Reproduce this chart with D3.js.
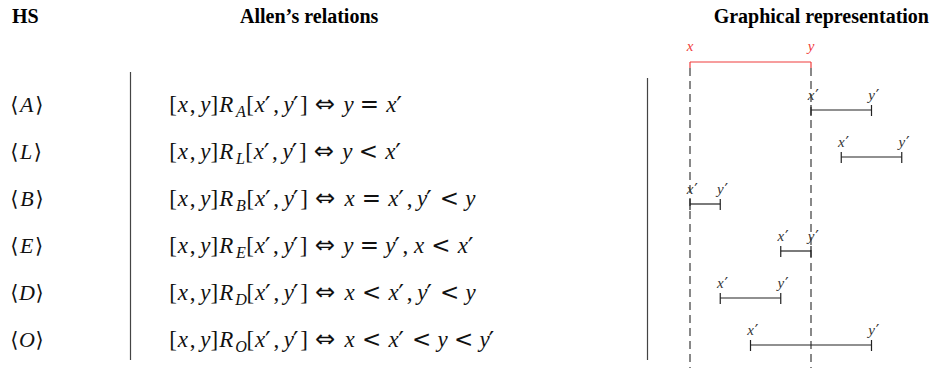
<!DOCTYPE html>
<html>
<head>
<meta charset="utf-8">
<script src="https://cdn.jsdelivr.net/npm/d3@7"></script>
<style>
  body { margin: 0; background: #fff; }
</style>
</head>
<body>
<svg width="933" height="368"></svg>
<script>
(function () {

// table data
var relations = ["A", "L", "B", "E", "D", "O"];
var formulas = [
  "[x,y]R_A[x′,y′]⇔y=x′",
  "[x,y]R_L[x′,y′]⇔y<x′",
  "[x,y]R_B[x′,y′]⇔x=x′,y′<y",
  "[x,y]R_E[x′,y′]⇔y=y′,x<x′",
  "[x,y]R_D[x′,y′]⇔x<x′,y′<y",
  "[x,y]R_O[x′,y′]⇔x<x′<y<y′"
];
// interval [x', y'] endpoints, reference interval [x, y] = [0, 4]
var refInterval = [0, 4];
var startVals = [4, 5, 0, 3, 1, 2];
var endVals = [6, 7, 1, 4, 3, 6];
var headers = ["HS", "Allen’s relations", "Graphical representation"];

var svg = d3.select('svg');

var serif = "'Liberation Serif', 'Times New Roman', serif";
var symFont = "'DejaVu Sans', sans-serif";
var rowY = d3.scalePoint().domain(relations).range([105, 340]);
var xs = d3.scaleLinear().domain([0, 4]).range([690, 811]);

// headers
var hdr = function (x, txt) {
  svg.append('text').attr('x', x).attr('y', 23).text(txt)
    .style('font-family', serif).style('font-weight', 'bold').style('font-size', '20px');
};
hdr(12, headers[0]);
hdr(240, headers[1]);
svg.append('text').attr('x', 929).attr('y', 23).attr('text-anchor', 'end').text(headers[2])
  .style('font-family', serif).style('font-weight', 'bold').style('font-size', '20px');

// dividers
svg.append('line').attr('x1', 130.5).attr('x2', 130.5).attr('y1', 72).attr('y2', 360)
  .style('stroke', '#444').style('stroke-width', 1.2);
svg.append('line').attr('x1', 647.5).attr('x2', 647.5).attr('y1', 78).attr('y2', 360)
  .style('stroke', '#444').style('stroke-width', 1.2);

// glyph advance widths in em (TeX-like metrics)
var adv = { '[': .278, ']': .278, ',': .278, 'x': .572, 'y': .49, 'R': .759,
  '⇔': 1.0, '=': .778, '<': .778, '′': .275, '⟨': .389, '⟩': .389,
  'A': .75, 'L': .681, 'B': .759, 'E': .738, 'D': .764, 'O': .763 };
var rel = '⇔=<';

// lay out a math string glyph by glyph
var writeMath = function (x0, y, str, em) {
  var x = x0, i = 0;
  while (i < str.length) {
    var c = str[i];
    if (c === '_') {
      var s = str[i + 1], w = adv[s] * 0.7 * em;
      svg.append('text').attr('x', x + w / 2).attr('y', y + 5).attr('text-anchor', 'middle').text(s)
        .style('font-family', serif).style('font-style', 'italic').style('font-size', (em * 0.7) + 'px')
        .style('fill', '#111');
      x += w; i += 2; continue;
    }
    var w2 = adv[c] * em;
    var gap = rel.indexOf(c) >= 0 ? 0.278 * em : 0;
    x += gap;
    var t = svg.append('text').attr('x', x + w2 / 2).attr('y', y).attr('text-anchor', 'middle').text(c)
      .style('font-family', serif).style('font-size', em + 'px').style('fill', '#111');
    if (/[a-zA-Z]/.test(c)) t.style('font-style', 'italic');
    if (c === '⇔') t.style('font-family', symFont).style('font-size', (em * 1.05) + 'px');
    if (c === '⟨' || c === '⟩') t.style('font-family', symFont).style('font-size', (em * 0.95) + 'px');
    if (c === '′') t.attr('y', y + 2).attr('x', x + w2 / 2 - 2).style('font-family', symFont)
      .style('font-size', (em * 1.1) + 'px');
    if (c === '=' || c === '<') t.style('font-family', symFont);
    x += w2 + gap;
    if (c === ',') x += 0.167 * em;
    i++;
  }
};

// left columns
relations.forEach(function (r, i) {
  var y = rowY(r) + 7;
  writeMath(10, y, '⟨' + r + '⟩', 22);
  writeMath(170, y, formulas[i], 23);
});

// dashed guide lines at x and y
refInterval.forEach(function (v) {
  svg.append('line').attr('x1', xs(v)).attr('x2', xs(v)).attr('y1', 68).attr('y2', 368)
    .style('stroke', '#888').style('stroke-width', 2).style('stroke-dasharray', '8,5');
});

// small interval label with prime
var label = function (xx, y, letter, prime, color) {
  svg.append('text').attr('x', xx).attr('y', y).attr('text-anchor', 'middle').text(letter)
    .style('font-family', serif).style('font-style', 'italic').style('font-size', '15px').style('fill', color);
  if (prime) {
    svg.append('text').attr('x', xx + 6).attr('y', y + 1).attr('text-anchor', 'middle').text('′')
      .style('font-family', symFont).style('font-size', '16px').style('fill', color);
  }
};

// reference interval in red
var refY = 62;
svg.append('line').attr('x1', xs(refInterval[0])).attr('x2', xs(refInterval[1]))
  .attr('y1', refY).attr('y2', refY).style('stroke', '#f03c3c').style('stroke-width', 1.2);
refInterval.forEach(function (v, k) {
  svg.append('line').attr('x1', xs(v)).attr('x2', xs(v)).attr('y1', refY).attr('y2', refY + 6)
    .style('stroke', '#f03c3c').style('stroke-width', 1.2);
  label(xs(v), refY - 11, k === 0 ? 'x' : 'y', false, '#f03c3c');
});

// relation intervals
relations.forEach(function (r, i) {
  var y = rowY(r) + 5;
  var x1 = xs(startVals[i]), x2 = xs(endVals[i]);
  svg.append('line').attr('x1', x1).attr('x2', x2).attr('y1', y).attr('y2', y)
    .style('stroke', '#222').style('stroke-width', 1.2);
  [x1, x2].forEach(function (xx, k) {
    svg.append('line').attr('x1', xx).attr('x2', xx).attr('y1', y - 5).attr('y2', y + 6)
      .style('stroke', '#222').style('stroke-width', 1.2);
    label(xx, y - 10, k === 0 ? 'x' : 'y', true, '#333');
  });
});

})();
</script>
</body>
</html>
